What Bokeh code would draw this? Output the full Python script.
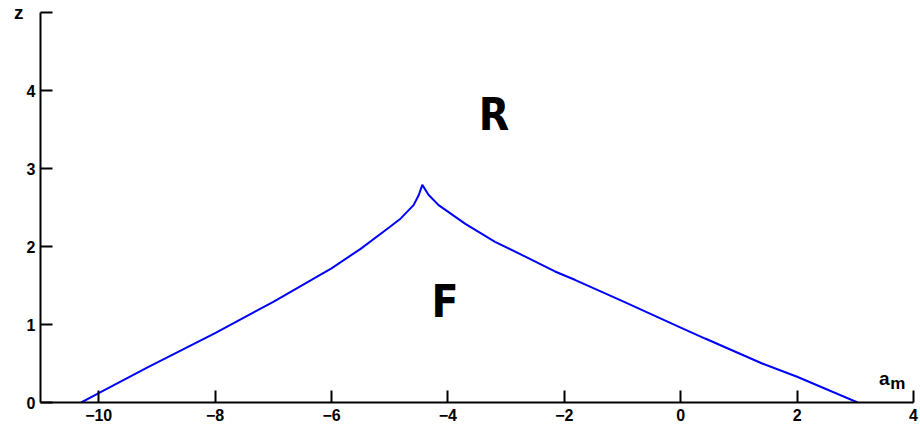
from bokeh.plotting import figure
from bokeh.models import FixedTicker, Label, Range1d
from bokeh.embed import file_html
from bokeh.resources import INLINE

# Boundary between regions F and R in the (a_m, z) plane
left_am = [-10.30, -10.0, -9.16, -8.0, -7.0, -6.0, -5.5, -5.0, -4.81, -4.59, -4.50, -4.44]
left_z = [0.0, 0.12, 0.45, 0.89, 1.29, 1.72, 1.97, 2.25, 2.36, 2.53, 2.66, 2.79]
right_am = [-4.44, -4.33, -4.16, -3.70, -3.19, -2.67, -2.16, -1.81, -1.0, 0.0, 0.42, 1.40, 2.0, 3.04]
right_z = [2.79, 2.66, 2.53, 2.29, 2.06, 1.87, 1.68, 1.57, 1.30, 0.96, 0.82, 0.50, 0.33, 0.0]

x_ticks = [-10, -8, -6, -4, -2, 0, 2, 4]
y_ticks = [0, 1, 2, 3, 4, 5]

region_labels = ["R", "F"]
region_am = [-3.21, -4.05]
region_z = [3.69, 1.30]

p = figure(width=920, height=425, output_backend="svg", toolbar_location=None,
           x_range=Range1d(-11, 4), y_range=Range1d(0, 5),
           min_border_left=40, min_border_right=7, min_border_top=12, min_border_bottom=23)
p.outline_line_color = None
p.xgrid.visible = False
p.ygrid.visible = False

p.line(left_am + right_am[1:], left_z + right_z[1:], line_color="#0000ff", line_width=2)

tick_font = "Liberation Sans"
for ax in (p.xaxis[0], p.yaxis[0]):
    ax.axis_line_width = 2
    ax.axis_line_color = "black"
    ax.major_tick_line_color = "black"
    ax.major_tick_line_width = 2
    ax.major_tick_in = 12
    ax.major_tick_out = 0
    ax.minor_tick_line_color = None
    ax.major_label_text_font = tick_font
    ax.major_label_text_font_style = "bold"
    ax.major_label_text_font_size = "16px"
    ax.major_label_text_color = "black"

p.xaxis[0].ticker = FixedTicker(ticks=x_ticks)
p.xaxis[0].major_label_standoff = 6
p.yaxis[0].ticker = FixedTicker(ticks=y_ticks)
p.yaxis[0].major_label_overrides = {5: ""}
p.yaxis[0].major_label_standoff = 5

# y-axis name, upright at the top end of the axis
p.yaxis[0].axis_label = "z"
p.yaxis[0].axis_label_orientation = "horizontal"
p.yaxis[0].axis_label_align = "end"
p.yaxis[0].axis_label_standoff = 0
p.yaxis[0].axis_label_text_font = tick_font
p.yaxis[0].axis_label_text_font_style = "bold"
p.yaxis[0].axis_label_text_font_size = "19px"
p.yaxis[0].axis_label_text_color = "black"

big_font = "Liberation Sans Narrow, DejaVu Sans Condensed, Liberation Sans"
for t, xa, za in zip(region_labels, region_am, region_z):
    p.add_layout(Label(x=xa, y=za, text=t, text_align="center", text_baseline="middle",
                       text_font=big_font, text_font_style="bold", text_font_size="44px",
                       text_color="black"))

# x-axis name a_m, drawn above the right end of the axis
p.add_layout(Label(x=3.50, y=0.31, text="a", text_align="center", text_baseline="middle",
                   text_font=tick_font, text_font_style="bold", text_font_size="19px",
                   text_color="black"))
p.add_layout(Label(x=3.73, y=0.24, text="m", text_align="center", text_baseline="middle",
                   text_font=tick_font, text_font_style="bold", text_font_size="17px",
                   text_color="black"))

open("out.html", "w").write(file_html(p, INLINE))
